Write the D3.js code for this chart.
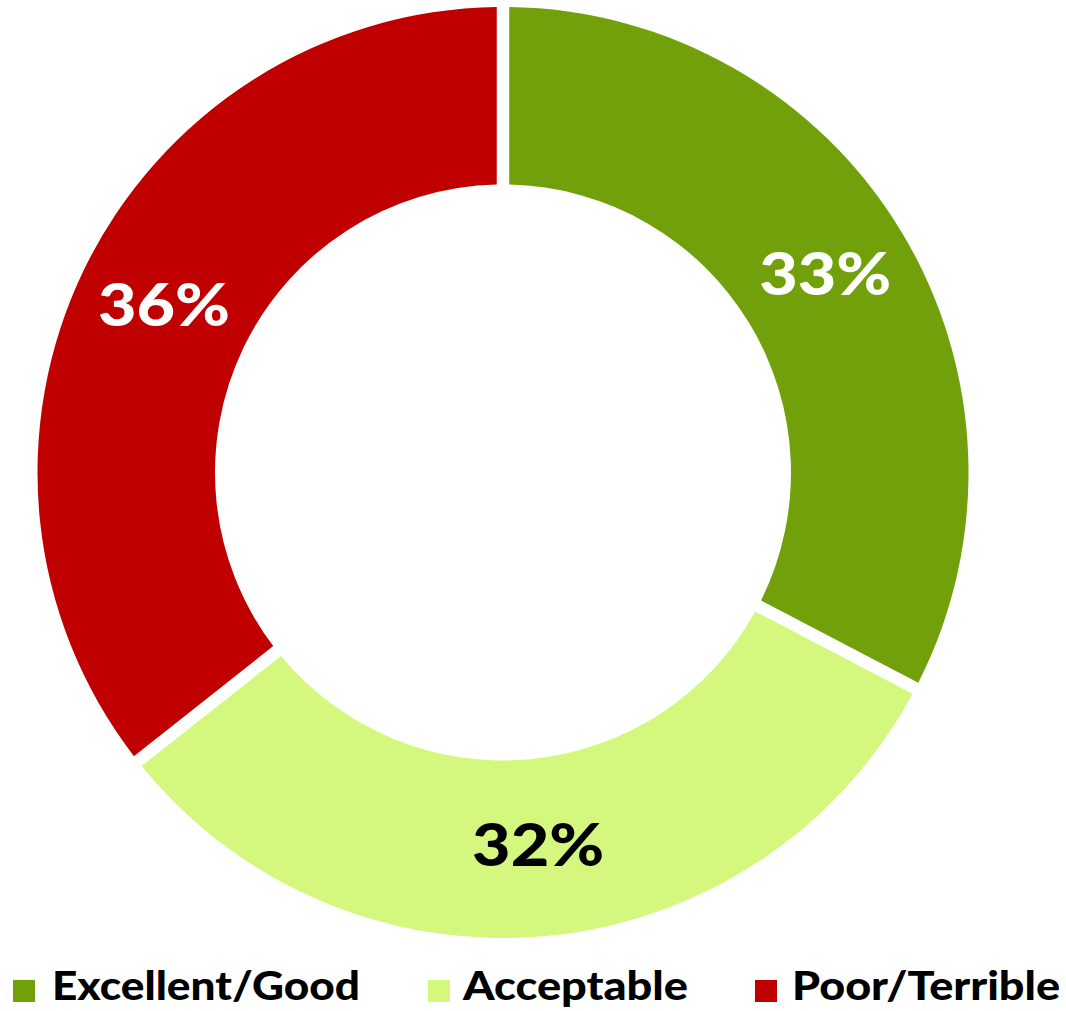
<!DOCTYPE html>
<html>
<head>
<meta charset="utf-8">
<script src="https://cdn.jsdelivr.net/npm/d3@7"></script>
<style>
  html, body { margin: 0; padding: 0; background: #ffffff; }
  svg { display: block; }
</style>
</head>
<body>
<svg id="chart" width="1066" height="1011"></svg>
<script>
const categories = ["Excellent/Good", "Acceptable", "Poor/Terrible"];
const values = [33, 32, 36];
const labels = ["33%", "32%", "36%"];
const colors = ["#71A00A", "#D3F87D", "#C00000"];
const labelColors = ["#ffffff", "#000000", "#ffffff"];

const svg = d3.select("#chart");
const cx = 503, cy = 472.5;
const outerR = 465.5, innerR = 288;
const gap = 12.5;

const pie = d3.pie().sort(null).value(d => d.value);
const data = pie(categories.map((c, i) => ({ cat: c, value: values[i], i })));

const arc = d3.arc()
  .innerRadius(innerR)
  .outerRadius(outerR)
  .padRadius(outerR)
  .padAngle(gap / outerR);

const g = svg.append("g").attr("transform", `translate(${cx},${cy})`);

g.selectAll("path.slice")
  .data(data)
  .join("path")
  .attr("class", "slice")
  .attr("d", arc)
  .attr("fill", d => colors[d.data.i]);

g.selectAll("text.val")
  .data(data)
  .join("text")
  .attr("class", "val")
  .attr("x", d => arc.centroid(d)[0])
  .attr("y", d => arc.centroid(d)[1] + 18)
  .attr("text-anchor", "middle")
  .attr("font-family", "Lato, 'DejaVu Sans', sans-serif")
  .attr("font-weight", 900)
  .attr("font-size", 59)
  .attr("textLength", 132)
  .attr("lengthAdjust", "spacingAndGlyphs")
  .attr("fill", d => labelColors[d.data.i])
  .text(d => labels[d.data.i]);

// Legend
const legendSquareX = [13, 428, 755];
const legendTextX = [52, 463, 792];
const legendTextW = [308, 225, 268];
const lg = svg.append("g");
categories.forEach((c, i) => {
  lg.append("rect")
    .attr("x", legendSquareX[i]).attr("y", 980)
    .attr("width", 22).attr("height", 22)
    .attr("fill", colors[i]);
  lg.append("text")
    .attr("x", legendTextX[i]).attr("y", 1000)
    .attr("font-family", "Lato, 'DejaVu Sans', sans-serif")
    .attr("font-weight", 900)
    .attr("font-size", 40)
    .attr("textLength", legendTextW[i])
    .attr("lengthAdjust", "spacingAndGlyphs")
    .attr("fill", "#000")
    .text(c);
});
</script>
</body>
</html>
